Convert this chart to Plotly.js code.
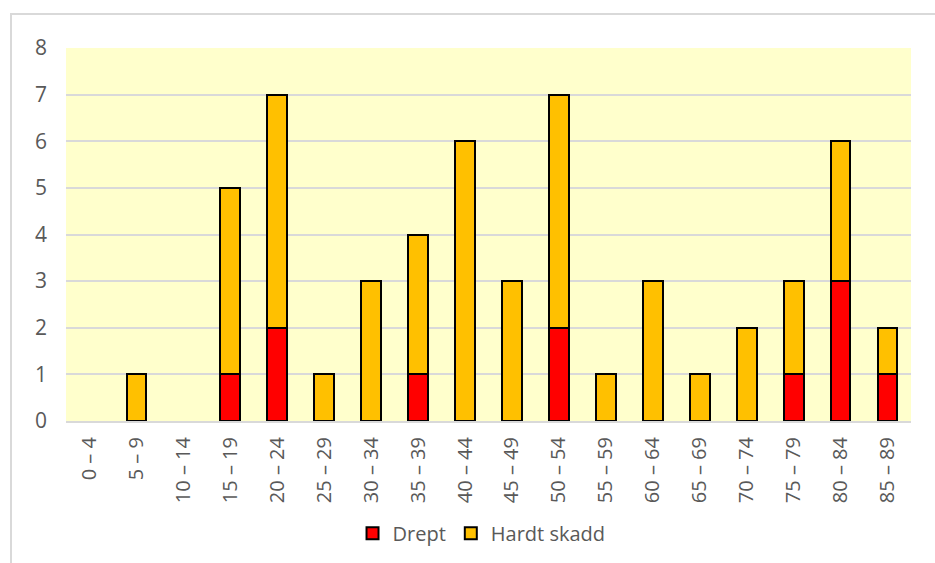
<!DOCTYPE html>
<html>
<head>
<meta charset="utf-8">
<script src="https://cdn.plot.ly/plotly-3.0.1.min.js"></script>
<style>
  body { margin: 0; background: #fff; }
  #frame {
    position: absolute; left: 10px; top: 13px; width: 940px; height: 560px;
    border: 2px solid #d9d9d9; box-sizing: border-box;
  }
  #chart { position: absolute; left: 0; top: 0; width: 935px; height: 563px; }
</style>
</head>
<body>
<div id="frame"></div>
<div id="chart"></div>
<script>
// age groups
var ageGroups = ["0 – 4", "5 – 9", "10 – 14", "15 – 19", "20 – 24", "25 – 29", "30 – 34", "35 – 39",
  "40 – 44", "45 – 49", "50 – 54", "55 – 59", "60 – 64", "65 – 69", "70 – 74", "75 – 79",
  "80 – 84", "85 – 89"];
var drept =       [0, 0, 0, 1, 2, 0, 0, 1, 0, 0, 2, 0, 0, 0, 0, 1, 3, 1];
var hardtSkadd =  [0, 1, 0, 4, 5, 1, 3, 3, 6, 3, 5, 1, 3, 1, 2, 2, 3, 1];
var yTicks = [0, 1, 2, 3, 4, 5, 6, 7, 8];

// zero values would draw a flat outline, so leave them empty
function noZero(arr) {
  return arr.map(function (v) { return v === 0 ? null : v; });
}

var traces = [
  {
    type: "bar", name: "Drept", x: ageGroups, y: noZero(drept),
    marker: {color: "#ff0000", line: {color: "#000000", width: 2}}
  },
  {
    type: "bar", name: "Hardt skadd", x: ageGroups, y: noZero(hardtSkadd),
    marker: {color: "#ffc000", line: {color: "#000000", width: 2}}
  }
];

var layout = {
  width: 935, height: 563,
  barmode: "stack",
  bargap: 0.58,
  paper_bgcolor: "rgba(0,0,0,0)",
  plot_bgcolor: "#ffffcc",
  margin: {l: 66, r: 24, t: 48, b: 142},
  font: {family: "Open Sans, sans-serif", size: 20, color: "#595959"},
  showlegend: true,
  legend: {
    orientation: "h", x: 0.515, xanchor: "center", xref: "container",
    y: 0.053, yanchor: "middle", yref: "container",
    font: {size: 20, color: "#595959"}, traceorder: "normal", itemwidth: 30
  },
  xaxis: {
    type: "category", tickangle: -90, showgrid: false, zeroline: false,
    showline: true, linecolor: "#d9d9d9", linewidth: 2, automargin: false,
    ticks: "", ticklabelstandoff: 6, tickfont: {size: 20, color: "#595959"}
  },
  yaxis: {
    range: [0, 8], tickvals: yTicks, showgrid: true, gridcolor: "#d9d9d9", gridwidth: 2,
    zeroline: false, showline: false, ticks: "", ticklabelstandoff: 18, automargin: false,
    tickfont: {size: 21, color: "#595959"}
  }
};

Plotly.newPlot("chart", traces, layout, {displayModeBar: false, staticPlot: true});
</script>
</body>
</html>
